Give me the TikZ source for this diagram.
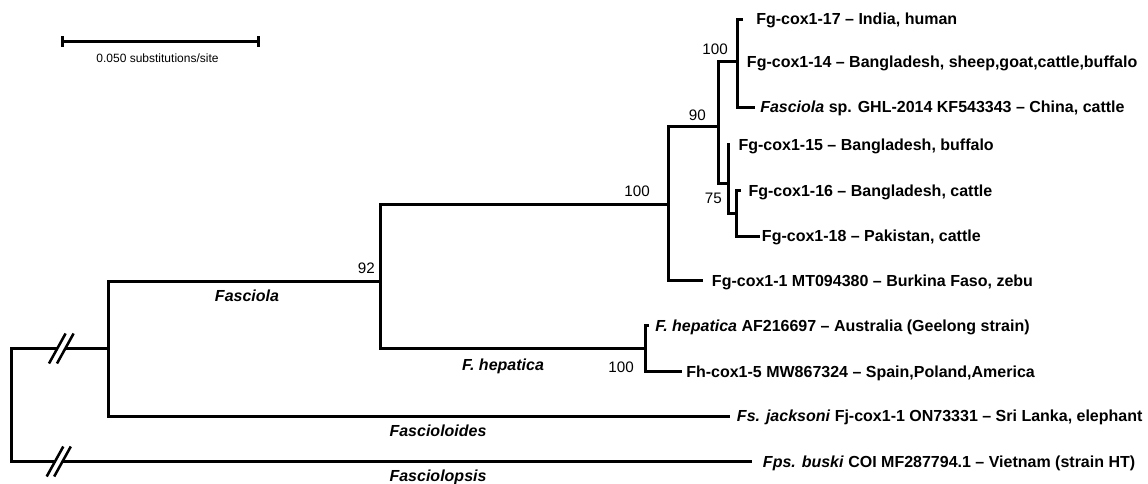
\documentclass[tikz,border=0pt]{standalone}
\usepackage{fontspec}
\setmainfont{Liberation Sans}
\begin{document}
\begin{tikzpicture}[x=0.75pt,y=-0.75pt,
  br/.style={line width=2.25pt, line join=miter},
  slash/.style={line width=1.9pt},
  tip/.style={anchor=west, inner sep=0pt, text height=8.5pt, text depth=0pt,
    font=\bfseries\fontsize{12}{14}\selectfont},
  boot/.style={anchor=east, inner sep=0pt, text height=8.1pt, text depth=0pt,
    font=\fontsize{11.4}{13}\selectfont},
  grp/.style={inner sep=0pt, text height=8.5pt, text depth=0pt,
    font=\bfseries\itshape\fontsize{12}{14}\selectfont}]
\useasboundingbox (0,0) rectangle (1148,484);

% scale bar
\coordinate (sbl) at (62.5,41.5);
\coordinate (sbr) at (258.5,41.5);
\draw[br] (sbl) -- (sbr);
\draw[br] ([yshift=4pt]sbl) -- ([yshift=-4pt]sbl);
\draw[br] ([yshift=4pt]sbr) -- ([yshift=-4pt]sbr);
\node[inner sep=0pt, font=\fontsize{9}{11}\selectfont] (sbt) at (157.5,58) {0.050 substitutions/site};

% internal nodes
\coordinate (root) at (11.5,405);
\coordinate (A) at (108.5,348.5);
\coordinate (B) at (380.5,281.5);
\coordinate (C) at (668.5,204.5);
\coordinate (D) at (645.5,348.5);
\coordinate (E) at (718.5,126.5);
\coordinate (F) at (737.5,61.5);
\coordinate (G) at (728.5,183.5);
\coordinate (H) at (736.5,213.5);

% tip ends
\coordinate (t17) at (743,19.5);
\coordinate (tsp) at (755,107.5);
\coordinate (t15) at (728.5,143.5);
\coordinate (t16) at (741,190.5);
\coordinate (t18) at (759.5,236.5);
\coordinate (t1) at (703,280.5);
\coordinate (thep) at (649,325.5);
\coordinate (th5) at (682,371.5);
\coordinate (tfs) at (730,416.5);
\coordinate (tfps) at (751.7,461.5);

% slash break points
\coordinate (u1) at (57.3,348.5);
\coordinate (u2) at (65.3,348.5);
\coordinate (l1) at (55,461.5);
\coordinate (l2) at (62.5,461.5);

% root
\draw[br] (u1) -| (root) |- (l1);
\draw[br] (u2) -- (A);
\draw[br] (l2) -- (tfps);
\draw[slash] ([shift={(-8.3,15)}]u1) -- ([shift={(8.3,-15)}]u1);
\draw[slash] ([shift={(-8.3,15)}]u2) -- ([shift={(8.3,-15)}]u2);
\draw[slash] ([shift={(-8.3,15)}]l1) -- ([shift={(8.3,-15)}]l1);
\draw[slash] ([shift={(-8.3,15)}]l2) -- ([shift={(8.3,-15)}]l2);

% tree
\draw[br] (B) -| (A) |- (tfs);
\draw[br] (C) -| (B) |- (D);
\draw[br] (E) -| (C) |- (t1);
\draw[br] (thep) -| (D) |- (th5);
\draw[br] (F) -| (E) |- (G);
\draw[br] (t17) -| (F) |- (tsp);
\draw[br] (t15) -- (G) |- (H);
\draw[br] (t16) -| (H) |- (t18);

% tip labels
\node[tip] (l17) at (756,19) {Fg-cox1-17 – India, human};
\node[tip] (l14) at (746.7,62) {Fg-cox1-14 – Bangladesh, sheep,goat,cattle,buffalo};
\node[tip] (lsp) at (760,107) {\textit{Fasciola} sp. GHL-2014 KF543343 – China, cattle};
\node[tip] (l15) at (738.3,145) {Fg-cox1-15 – Bangladesh, buffalo};
\node[tip] (l16) at (748.3,190.5) {Fg-cox1-16 – Bangladesh, cattle};
\node[tip] (l18) at (761.7,236) {Fg-cox1-18 – Pakistan, cattle};
\node[tip] (l1) at (711.7,280.7) {Fg-cox1-1 MT094380 – Burkina Faso, zebu};
\node[tip] (lhep) at (655,326) {\textit{F. hepatica} AF216697 – Australia (Geelong strain)};
\node[tip] (lh5) at (686,372) {Fh-cox1-5 MW867324 – Spain,Poland,America};
\node[tip] (lfs) at (736.7,416) {\textit{Fs. jacksoni} Fj-cox1-1 ON73331 – Sri Lanka, elephant};
\node[tip] (lfps) at (762.7,461.7) {\textit{Fps. buski} COI MF287794.1 – Vietnam (strain HT)};

% bootstrap values
\node[boot] (bF) at (728,49) {100};
\node[boot] (bE) at (706,115) {90};
\node[boot] (bG) at (722,198) {75};
\node[boot] (bC) at (650,190.7) {100};
\node[boot] (bB) at (375,268) {92};
\node[boot] (bD) at (634,367) {100};

% group labels
\node[grp] (gfa) at (247,296) {Fasciola};
\node[grp] (ghe) at (503,365) {F. hepatica};
\node[grp, anchor=west] (gfo) at (389.3,430.7) {Fascioloides};
\node[grp, anchor=west] (gfp) at (389.3,476) {Fasciolopsis};
\end{tikzpicture}
\end{document}
